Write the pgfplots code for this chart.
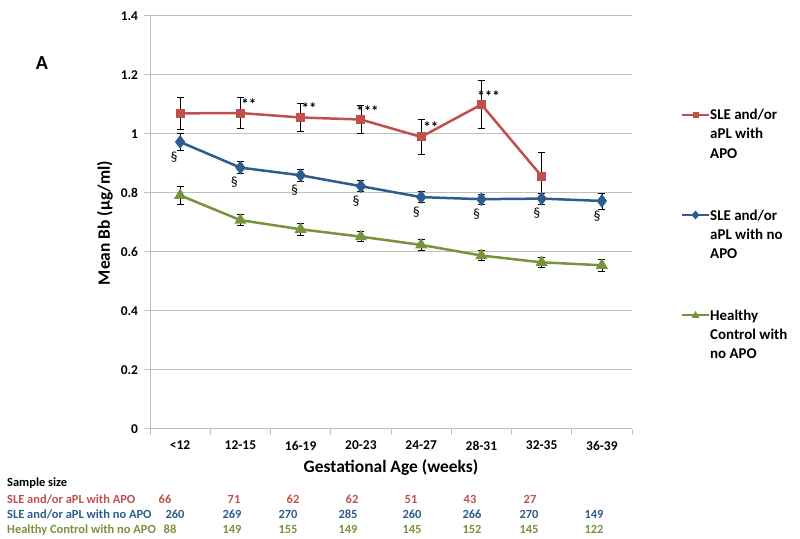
\documentclass[border=0pt]{standalone}
\usepackage{fontspec}
\setmainfont{Carlito}
\usepackage{pgfplots}
\pgfplotsset{compat=1.18}
\definecolor{sred}{HTML}{C0504D}
\definecolor{sblue}{HTML}{2E5C8E}
\definecolor{sgreen}{HTML}{77933C}
\definecolor{gridgray}{HTML}{BFBFBF}

\pgfplotstableread{
x y e
0 1.070 0.053
1 1.071 0.053
2 1.056 0.048
3 1.049 0.048
4 0.990 0.058
5 1.100 0.082
6 0.857 0.080
}\apo
\pgfplotstableread{
x y e
0 0.973 0.030
1 0.886 0.021
2 0.860 0.021
3 0.823 0.019
4 0.786 0.018
5 0.779 0.018
6 0.781 0.018
7 0.773 0.027
}\noapo
\pgfplotstableread{
x y e
0 0.792 0.030
1 0.708 0.018
2 0.677 0.019
3 0.652 0.017
4 0.624 0.018
5 0.588 0.017
6 0.565 0.016
7 0.555 0.021
}\healthy

\pgfplotsset{
  ebar/.style={
    error bars/.cd, y dir=both, y explicit,
    error bar style={black, line width=0.7bp, solid},
    error mark options={black, rotate=90, mark size=3.5bp, line width=0.7bp}
  }
}

\begin{document}
\begin{tikzpicture}
\path[use as bounding box] (0bp,0bp) rectangle (800bp,539bp);
\begin{axis}[
    at={(150bp,110bp)}, anchor=south west,
    scale only axis, width=482bp, height=413bp,
    xmin=-0.5, xmax=7.5, ymin=0, ymax=1.4,
    xtick={0,...,7},
    xticklabels={<12,12-15,16-19,20-23,24-27,28-31,32-35,36-39},
    minor xtick={-0.5,0.5,1.5,2.5,3.5,4.5,5.5,6.5,7.5},
    ytick={0,0.2,0.4,0.6,0.8,1,1.2,1.4},
    axis x line*=bottom, axis y line*=left,
    axis line style={gridgray, line width=1bp},
    ymajorgrids, grid style={gridgray, line width=1bp},
    tick align=outside,
    major tick length=6bp, minor tick length=6bp,
    major x tick style={draw=none},
    minor x tick style={gridgray, line width=1bp},
    ytick style={gridgray, line width=1bp},
    /pgf/number format/assume math mode=true,
    tick label style={font=\bfseries\fontsize{13.5}{16}\selectfont, text=black},
    xticklabel style={yshift=-2.5bp},
    yticklabel style={xshift=-2.5bp},
    clip=false,
]
\addplot[sred, line width=2.5bp, mark=square*, mark size=3.3bp, ebar] table[x=x, y=y, y error=e] {\apo};
\addplot[sblue, line width=2.5bp, mark=diamond*, mark size=4.8bp, ebar] table[x=x, y=y, y error=e] {\noapo};
\addplot[sgreen, line width=2.5bp, mark=triangle*, mark size=4.5bp, ebar] table[x=x, y=y, y error=e] {\healthy};

% significance marks: asterisks (APO vs no APO), section signs
\begin{scope}[every node/.style={font=\bfseries\fontsize{15}{17}\selectfont, text=black, inner sep=0pt}]
\node at (axis cs:1.14,1.100) {**};
\node at (axis cs:2.14,1.087) {**};
\node at (axis cs:3.11,1.078) {***};
\node at (axis cs:4.16,1.022) {**};
\node at (axis cs:5.12,1.128) {***};
\end{scope}
\begin{scope}[every node/.style={font=\fontsize{14}{16}\selectfont, text=black, inner sep=0pt}]
\node at (axis cs:-0.10,0.923) {\S};
\node at (axis cs:0.90,0.836) {\S};
\node at (axis cs:1.90,0.810) {\S};
\node at (axis cs:2.92,0.773) {\S};
\node at (axis cs:3.92,0.736) {\S};
\node at (axis cs:4.92,0.729) {\S};
\node at (axis cs:5.92,0.731) {\S};
\node at (axis cs:6.92,0.723) {\S};
\end{scope}
\end{axis}

% panel letter and axis titles
\node[font=\bfseries\fontsize{20}{24}\selectfont] at (42bp,476bp) {A};
\node[font=\bfseries\fontsize{17.5}{21}\selectfont, rotate=90] at (105bp,316bp) {Mean Bb (µg/ml)};
\node[font=\bfseries\fontsize{17.5}{21}\selectfont] at (391bp,71bp) {Gestational Age (weeks)};

% legend
\begin{scope}[x=1bp, y=1bp, every node/.style={font=\bfseries\fontsize{15}{18}\selectfont, anchor=base west, inner sep=0pt}]
\draw[sred, line width=2.5bp] (682,424) -- (709,424);
\fill[sred] (692.5,421) rectangle (698.5,427);
\node at (710,419) {SLE and/or};
\node at (710,400) {aPL with};
\node at (710,381) {APO};
\draw[sblue, line width=2.5bp] (682,324) -- (709,324);
\fill[sblue] (691.5,324) -- (695.5,328.5) -- (699.5,324) -- (695.5,319.5) -- cycle;
\node at (710,319) {SLE and/or};
\node at (710,300) {aPL with no};
\node at (710,281) {APO};
\draw[sgreen, line width=2.5bp] (682,224) -- (709,224);
\fill[sgreen] (691.5,221) -- (699.5,221) -- (695.5,228) -- cycle;
\node at (710,219) {Healthy};
\node at (710,200) {Control with};
\node at (710,181) {no APO};
\end{scope}

% sample size table
\begin{scope}[x=1bp, y=1bp, every node/.style={font=\bfseries\fontsize{12.5}{15}\selectfont, inner sep=0pt, anchor=base}]
\node[anchor=base west] at (7,53) {Sample size};
\node[anchor=base west, text=sred] at (7,36) {SLE and/or aPL with APO};
\node[anchor=base west, text=sblue] at (7,21) {SLE and/or aPL with no APO};
\node[anchor=base west, text=sgreen] at (7,6) {Healthy Control with no APO};
\foreach \xx/\n in {165/66,234/71,293/62,352/62,411/51,470/43,530/27}
  \node[text=sred] at (\xx,36) {\n};
\foreach \xx/\n in {175/260,232/269,288/270,348/285,412/260,472/266,529/270,594/149}
  \node[text=sblue] at (\xx,21) {\n};
\foreach \xx/\n in {170/88,232/149,288/155,348/149,412/145,472/152,529/145,594/122}
  \node[text=sgreen] at (\xx,6) {\n};
\end{scope}
\end{tikzpicture}
\end{document}
